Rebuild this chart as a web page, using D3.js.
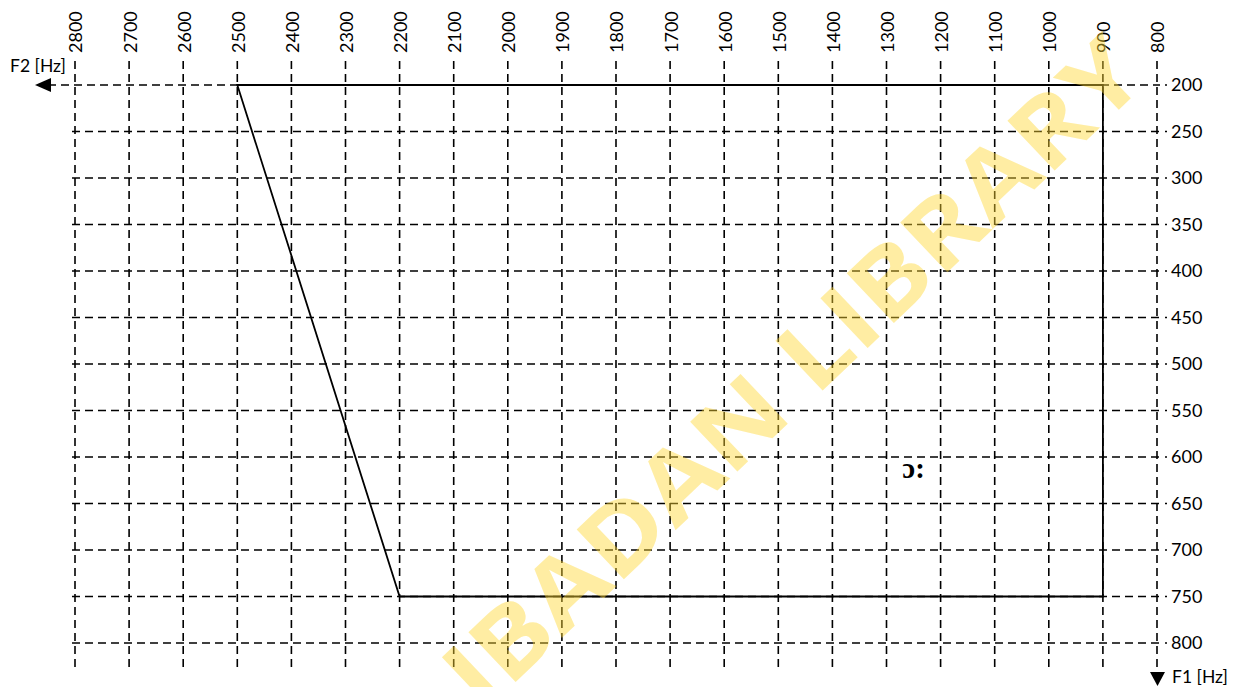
<!DOCTYPE html>
<html>
<head>
<meta charset="utf-8">
<script src="https://cdn.jsdelivr.net/npm/d3@7"></script>
<style>
  body { margin: 0; background: #fff; }
  svg text { font-family: Lato, "Open Sans", sans-serif; }
</style>
</head>
<body>
<svg id="chart"></svg>
<script>
// F2 runs right-to-left across the top, F1 runs down the right side
var f2Ticks = [2800, 2700, 2600, 2500, 2400, 2300, 2200, 2100, 2000, 1900, 1800,
               1700, 1600, 1500, 1400, 1300, 1200, 1100, 1000, 900, 800];
var f1Ticks = [200, 250, 300, 350, 400, 450, 500, 550, 600, 650, 700, 750, 800];

// vowel area outline (F2, F1)
var areaF2 = [2500, 900, 900, 2200];
var areaF1 = [200, 200, 750, 750];

var vowelNames = ["ɔ:"];
var vowelF2 = [1250];
var vowelF1 = [612];

var screen = {width: 1233, height: 687};

var svg = d3.select("#chart")
  .attr("width", screen.width)
  .attr("height", screen.height);

var x = d3.scaleLinear().domain([2800, 800]).range([75, 1157]);
var y = d3.scaleLinear().domain([200, 800]).range([85, 643]);

var grid = svg.append("g");

// vertical dashed lines
grid.selectAll(".vline").data(f2Ticks).enter()
  .append("line")
  .attr("x1", function(d){ return x(d); })
  .attr("x2", function(d){ return x(d); })
  .attr("y1", 61)
  .attr("y2", function(d){ return d == 800 ? 676 : 670; })
  .style("stroke", "#000")
  .style("stroke-width", 1.6)
  .style("stroke-dasharray", "8,5");

// horizontal dashed lines
grid.selectAll(".hline").data(f1Ticks).enter()
  .append("line")
  .attr("x1", function(d){ return d == 200 ? 48 : 72; })
  .attr("x2", 1160)
  .attr("y1", function(d){ return y(d); })
  .attr("y2", function(d){ return y(d); })
  .style("stroke", "#000")
  .style("stroke-width", 1.6)
  .style("stroke-dasharray", "8,5");

// top labels (rotated)
svg.selectAll(".f2lab").data(f2Ticks).enter()
  .append("text")
  .attr("transform", function(d){ return "translate(" + (x(d) + 1) + ",53) rotate(-90)"; })
  .attr("dy", "0.36em")
  .style("font-size", "18px")
  .style("fill", "#000")
  .text(function(d){ return d; });

// right labels with little dot ticks
svg.selectAll(".f1dot").data(f1Ticks).enter()
  .append("line")
  .attr("x1", 1165).attr("x2", 1167)
  .attr("y1", function(d){ return y(d); })
  .attr("y2", function(d){ return y(d); })
  .style("stroke", "#000").style("stroke-width", 1.4);

svg.selectAll(".f1lab").data(f1Ticks).enter()
  .append("text")
  .attr("x", 1171)
  .attr("y", function(d){ return y(d); })
  .attr("dy", "0.36em")
  .style("font-size", "18px")
  .style("fill", "#000")
  .text(function(d){ return d; });

// axis arrows
svg.append("path")
  .attr("d", d3.line()([[35, 85], [51, 78], [51, 92]]) + "Z")
  .style("fill", "#000");
svg.append("path")
  .attr("d", d3.line()([[1150, 672], [1165, 672], [1157.5, 686]]) + "Z")
  .style("fill", "#000");

svg.append("text").attr("x", 10).attr("y", 72)
  .style("font-size", "17.5px").text("F2 [Hz]");
svg.append("text").attr("x", 1172).attr("y", 683)
  .style("font-size", "17.5px").text("F1 [Hz]");

// solid outline of the vowel area
var pts = areaF2.map(function(d, i){ return [x(d), y(areaF1[i])]; });
svg.append("path")
  .attr("d", d3.line()(pts) + "Z")
  .style("fill", "none")
  .style("stroke", "#000")
  .style("stroke-width", 1.8);

svg.selectAll(".vowel").data(vowelNames).enter()
  .append("text")
  .attr("x", function(d, i){ return x(vowelF2[i]); })
  .attr("y", function(d, i){ return y(vowelF1[i]); })
  .attr("text-anchor", "middle")
  .attr("dy", "0.35em")
  .style("font-family", "'Liberation Serif', 'DejaVu Serif', serif")
  .style("font-weight", "bold")
  .style("font-size", "29px")
  .text(function(d){ return d; });

// watermark
svg.append("text")
  .attr("transform", "translate(792,372) rotate(-43.5)")
  .attr("text-anchor", "middle")
  .attr("dy", "0.36em")
  .attr("textLength", 920)
  .attr("lengthAdjust", "spacingAndGlyphs")
  .style("font-family", "'Open Sans', 'Liberation Sans', sans-serif")
  .style("font-weight", "bold")
  .style("font-size", "96px")
  .style("fill", "#FFD633")
  .style("fill-opacity", 0.45)
  .text("IBADAN LIBRARY");
</script>
</body>
</html>
